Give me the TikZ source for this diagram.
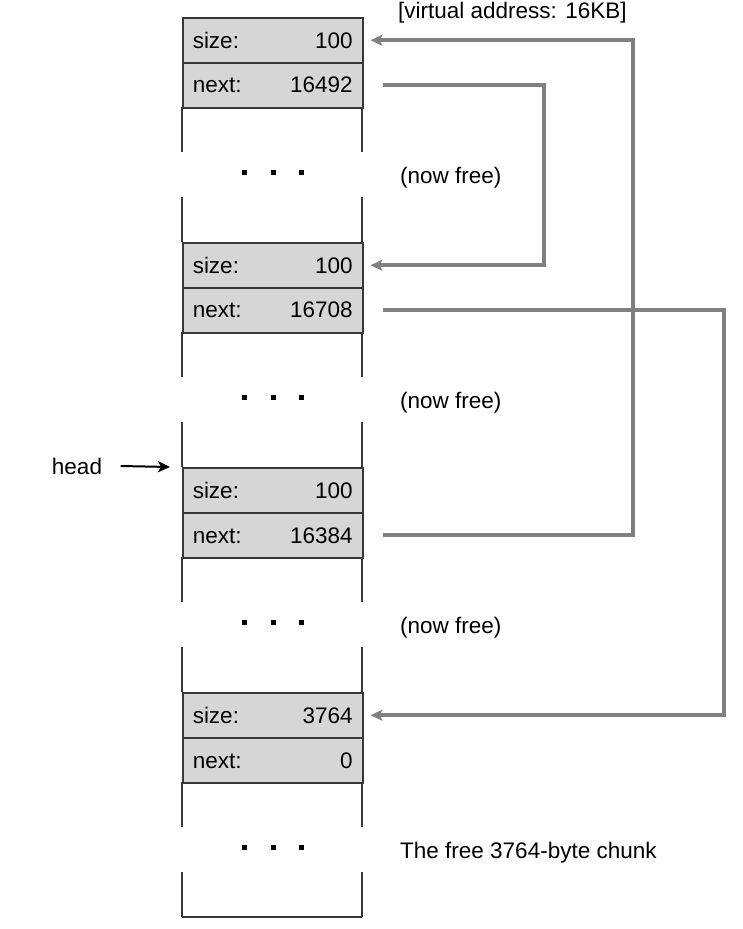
\documentclass[tikz,border=0pt]{standalone}
\usepackage{fontspec}
\setmainfont{Liberation Sans}
\usetikzlibrary{arrows.meta}

\begin{document}
\begin{tikzpicture}[x=1pt,y=-1pt,font=\fontsize{22.5}{27}\selectfont,
  cell/.style={draw=black!78,fill=black!16,line width=1.5pt,anchor=north west,
    minimum width=180pt,minimum height=45pt,inner xsep=10pt,text width=160pt},
  wall/.style={draw=black!78,line width=1.5pt},
  dot/.style={fill=black},
  note/.style={anchor=west,inner sep=0pt},
  link/.style={-{Stealth[length=12pt,width=11pt,inset=3pt]},draw=black!50,line width=4pt},
  headarrow/.style={-{Stealth[length=12pt,width=11pt,inset=3pt]},line width=2pt}]

  \useasboundingbox (0,0) rectangle (743,929);

  \foreach \k/\s/\n/\txt in {0/100/16492/{(now free)},1/100/16708/{(now free)},
                            2/100/16384/{(now free)},3/3764/0/{The free 3764-byte chunk}} {
    \node[cell] (s\k) at (182,17+225*\k) {size:\hfill \s};
    \node[cell] (n\k) at (182,62+225*\k) {next:\hfill \n};
    \draw[wall] (182,107+225*\k) -- ++(0,45) (362,107+225*\k) -- ++(0,45)
                (182,197+225*\k) -- ++(0,45) (362,197+225*\k) -- ++(0,45);
    \foreach \x in {244,273,301}
      \fill[dot] (\x-2.5,169.5+225*\k) rectangle ++(5,5);
    \node[note] (free\k) at (400,178+225*\k) {\txt};
  }
  \draw[wall] (182,917) -- (362,917);

  \node[note] (addr) at (398,13) {[virtual address: 16KB]};
  \node (head) at (77,466) {head};

  \draw[headarrow] ([xshift=15]head.east) -- ([xshift=-12]s2.north west);
  \draw[link] ([xshift=19]n2.east) -- ++(250,0) |- ([xshift=7]s0.east);
  \draw[link] ([xshift=19]n0.east) -- ++(161,0) |- ([xshift=7]s1.east);
  \draw[link] ([xshift=19]n1.east) -- ++(341,0) |- ([xshift=7]s3.east);
\end{tikzpicture}
\end{document}
